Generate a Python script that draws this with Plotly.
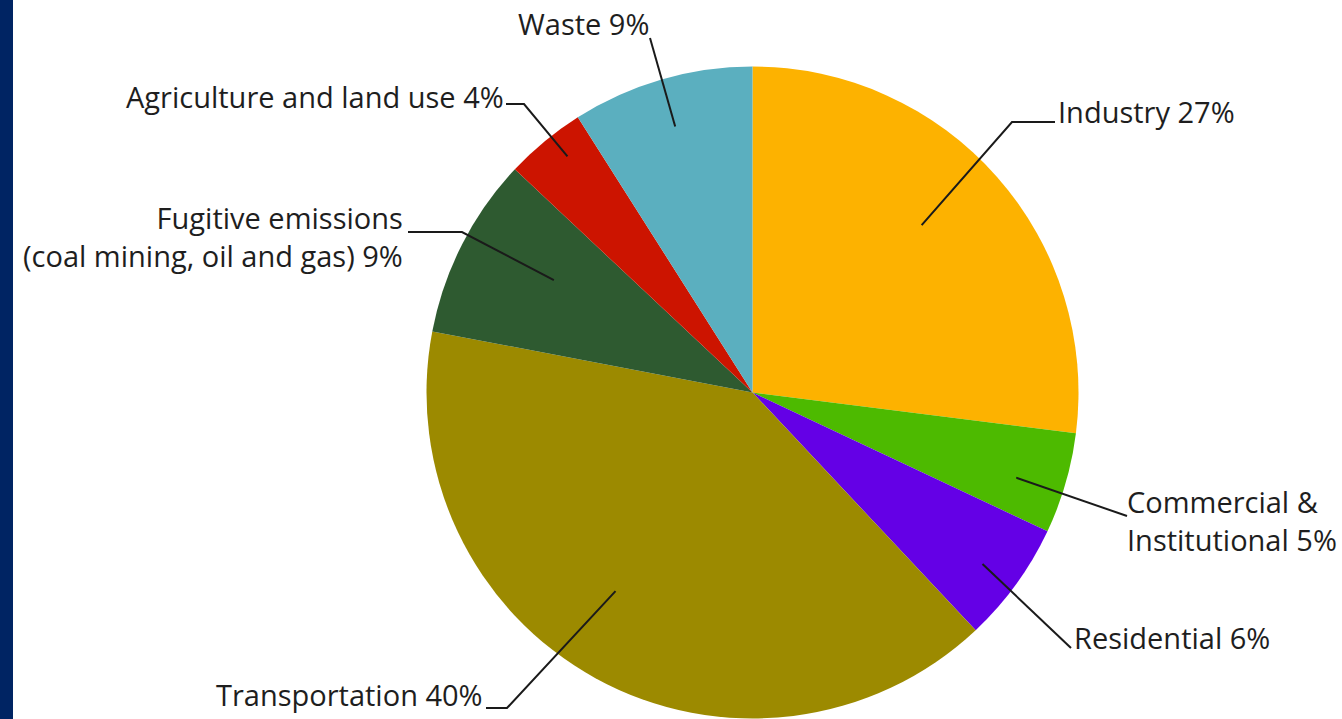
import math
import plotly.graph_objects as go

# ---- data ----
categories = ["Industry", "Commercial &<br>Institutional", "Residential", "Transportation",
              "Fugitive emissions<br>(coal mining, oil and gas)", "Agriculture and land use", "Waste"]
values = [27, 5, 6, 40, 9, 4, 9]
colors = ["#FDB200", "#4DBA00", "#6400E6", "#9C8A00", "#2E5A30", "#CC1400", "#5BAFBF"]

# ---- layout constants (pixels) ----
W, H = 1342, 719
CX, CY, R = 752.5, 392.5, 326.0

def px(x):
    return x / W

def py(y):
    return min(1.0, max(0.0, 1 - y / H))

label_cfg = [
    dict(f=0.73, da=-3.3, pts=[(1012, 122), (1055, 122)], tx=1056, ty=111, xa="left"),
    dict(f=0.85, da=1.7, pts=[(1127, 516)], tx=1125, ty=520, xa="left"),
    dict(f=0.88, da=0.7, pts=[(1071, 648)], tx=1072, ty=637, xa="left"),
    dict(f=0.74, da=5.8, pts=[(507, 708), (486, 708)], tx=485, ty=694, xa="right"),
    dict(f=0.70, da=2.5, pts=[(462, 232), (408, 232)], tx=405, ty=236, xa="right"),
    dict(f=0.92, da=1.5, pts=[(524, 104), (506, 104)], tx=506, ty=96, xa="right"),
    dict(f=0.85, da=0.0, pts=[(650, 38)], tx=583, ty=23, xa="center"),
]

total = sum(values)
fig = go.Figure()
fig.add_trace(go.Pie(
    labels=categories,
    values=values,
    sort=False,
    direction="clockwise",
    rotation=0,
    marker=dict(colors=colors, line=dict(width=0)),
    textinfo="none",
    hoverinfo="label+percent",
    showlegend=False,
    domain=dict(x=[px(CX - R), px(CX + R)], y=[py(CY + R), py(CY - R)]),
))

shapes = [dict(type="rect", xref="paper", yref="paper", x0=0, x1=px(13), y0=0, y1=1,
               fillcolor="#002463", line=dict(width=0), layer="above")]
annotations = []
cum = 0
for cat, v, cfg in zip(categories, values, label_cfg):
    mid = (cum + v / 2) / total * 360 + cfg["da"]
    cum += v
    a = math.radians(mid)
    sx = CX + math.sin(a) * R * cfg["f"]
    sy = CY - math.cos(a) * R * cfg["f"]
    path = f"M {px(sx)} {py(sy)}"
    for (x, y) in cfg["pts"]:
        path += f" L {px(x)} {py(y)}"
    shapes.append(dict(type="path", xref="paper", yref="paper", path=path,
                       line=dict(color="#1a1a1a", width=2)))
    annotations.append(dict(
        x=px(cfg["tx"]), y=py(cfg["ty"]), xref="paper", yref="paper",
        text=f"{cat} {v}%", showarrow=False,
        xanchor=cfg["xa"], yanchor="middle",
        align="right" if cfg["xa"] == "right" else "left",
        font=dict(family="Open Sans", size=29, color="#1e1e1e"),
    ))

fig.update_layout(
    width=W, height=H,
    margin=dict(l=0, r=0, t=0, b=0),
    paper_bgcolor="white",
    shapes=shapes,
    annotations=annotations,
)
fig.write_html("out.html", config={"displayModeBar": False},
               post_script="document.body.style.margin='0px';")
